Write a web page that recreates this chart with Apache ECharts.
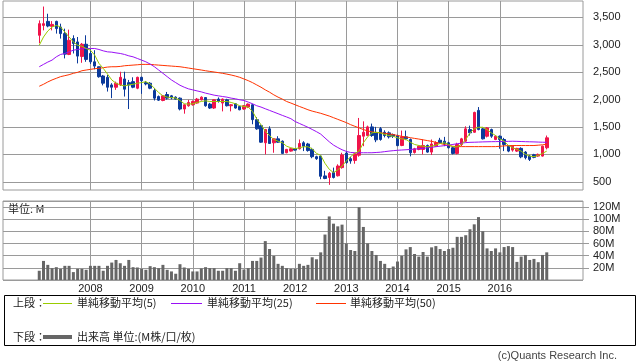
<!DOCTYPE html>
<html><head><meta charset="utf-8">
<script src="https://cdn.jsdelivr.net/npm/echarts@6/dist/echarts.min.js"></script>
<style>html,body{margin:0;padding:0;background:#fff}#c{width:638px;height:362px}</style>
</head><body><div id="c"></div>
<script>
const years = [2007,2008,2009,2010,2011,2012,2013,2014,2015,2016];
const months = [];
years.forEach(y => { for (let m = 1; m <= 12; m++) months.push(y + '/' + (m < 10 ? '0' + m : m)); });

const open = [3174,3355,3428,3337,3428,3324,3205,2824,3114,3053,2788,3011,
 2842,2690,2600,2431,2407,2268,2226,2268,2377,2310,2328,2208,
 2407,2310,2299,2165,2056,1984,2093,2069,2045,2027,1828,1888,
 1906,1937,1996,2038,1918,1846,2009,1937,1996,1888,1924,1875,
 1828,1864,1906,1634,1525,1212,1466,1212,1284,1241,1030,1060,
 1103,1103,1212,1190,1091,958,969,607,578,668,610,759,
 1025,922,890,985,1332,1344,1502,1400,1470,1404,1393,1362,
 1340,1163,1320,1272,1035,1091,1091,1163,1042,1150,1259,1241,
 1212,1121,1018,1181,1241,1453,1404,1803,1466,1332,1453,1272,
 1332,1272,1150,1078,1060,1110,1042,969,994,969,969,1121];
const close = [3386,3386,3343,3373,3296,3205,2830,3083,3024,2794,3011,2734,
 2690,2612,2418,2300,2226,2226,2299,2407,2190,2268,2226,2407,
 2346,2286,2208,2027,1990,2069,2027,2030,2009,1828,1906,1948,
 1966,2009,2045,1888,1846,1996,1966,2009,1888,1906,1846,1815,
 1888,1918,1634,1466,1223,1453,1199,1284,1223,1018,1091,1103,
 1078,1199,1150,1070,958,922,600,560,656,578,788,990,
 850,879,1010,1344,1404,1502,1344,1265,1272,1344,1320,1332,
 1160,1320,1285,1030,1103,1150,1163,1042,1190,1215,1212,1194,
 1121,1018,1181,1284,1466,1393,1766,1453,1284,1484,1332,1332,
 1272,1181,1060,1150,1109,955,940,909,946,1000,1150,1302];
const low = [3029,3264,3320,3264,3205,3114,2752,2812,2842,2661,2672,2690,
 2650,2553,2400,2260,2147,2027,2178,2250,2056,1828,2208,2190,
 2105,2260,2190,1984,1975,1970,2000,2005,2000,1803,1743,1870,
 1890,1925,1985,1870,1830,1830,1945,1785,1875,1785,1835,1805,
 1815,1845,1550,1450,1212,1000,1190,1030,1210,1010,1020,1050,
 1070,1090,1060,1050,930,900,547,547,444,560,596,740,
 830,830,830,958,1150,1330,1320,1223,1250,1310,1290,1300,
 1150,1150,1260,964,1015,1075,1000,1030,990,1140,1194,1150,
 1109,1000,1000,1150,1230,1344,1395,1440,1272,1310,1302,1260,
 1103,1060,1040,1050,1045,930,909,879,930,955,960,1091];
const high = [3446,3699,3567,3433,3440,3386,3295,3277,3174,3143,3034,3174,
 2920,2902,2600,2450,2449,2300,2328,2509,2509,2359,2407,2418,
 2418,2340,2320,2208,2075,2085,2140,2085,2060,2040,1915,1996,
 1985,2030,2060,2045,1940,2005,2040,2020,2015,1920,1937,1885,
 1900,1930,1925,1680,1545,1465,1513,1295,1332,1255,1100,1115,
 1115,1272,1241,1210,1120,975,975,700,680,759,819,1030,
 1060,958,1030,1665,1603,1525,1562,1502,1500,1440,1420,1380,
 1360,1435,1435,1290,1120,1165,1272,1180,1272,1240,1302,1320,
 1230,1145,1212,1302,1513,1525,1779,1864,1484,1500,1470,1350,
 1345,1302,1170,1165,1120,1130,1060,990,1010,1015,1160,1344];
const volumeM = [15.2,31.4,24.9,19.5,21.1,18.4,23.3,23.3,13,18.4,18.4,16.8,
 23.3,23.3,23.3,15.2,23.3,28.7,33,27.6,23.3,33,21.1,20.6,
 18.4,16.8,22.8,21.1,19.5,24.9,16.8,14.1,10.3,26,20.6,18.4,
 14.1,14.1,19,21.1,19.5,19.5,15.2,15.2,19.5,19.5,15.2,27.6,
 17.3,19.5,31.4,31.4,36.9,64,51,39.6,26.6,23.3,19.5,18.4,
 18.4,26.6,23.3,24.9,37.4,34.1,45.5,74.8,104.6,92.7,88.3,91.1,
 60.2,49.3,47.7,119.8,87.3,60.2,47.7,41.2,31.4,26.6,19.5,22.2,
 30.4,39.6,50.4,54.2,42.8,38.5,46.1,38.5,53.7,55.8,50.9,47.7,
 50.9,53.1,71,71,73.7,83.5,91.6,103.5,80.2,52,47.7,52,
 45.5,54.2,55.8,54.2,29.8,38.5,41.2,33,34.7,29.3,41.2,45.5];
const ma5 = [2993,3143,3252,3325,3355,3325,3234,3143,3053,2993,2975,2933,
 2902,2812,2661,2571,2467,2359,2299,2268,2250,2268,2280,2299,
 2310,2328,2286,2208,2129,2069,2045,2038,2027,1984,1924,1918,
 1924,1948,1966,1978,1966,1966,1966,1966,1966,1948,1924,1888,
 1875,1864,1785,1647,1543,1422,1344,1272,1241,1212,1150,1121,
 1103,1121,1139,1139,1103,1018,982,837,728,668,716,788,
 879,958,1018,1060,1212,1320,1393,1404,1393,1362,1344,1332,
 1302,1284,1272,1223,1181,1163,1150,1139,1150,1169,1199,1212,
 1181,1139,1139,1181,1272,1393,1466,1495,1495,1453,1393,1344,
 1284,1241,1163,1121,1091,1060,1000,969,958,982,1018,1060];
const ma25 = [2600,2643,2685,2721,2781,2824,2842,2872,2902,2915,2926,2933,
 2933,2933,2915,2890,2872,2866,2853,2842,2824,2799,2781,2751,
 2721,2690,2649,2600,2540,2480,2419,2359,2310,2262,2226,2196,
 2178,2159,2141,2118,2100,2081,2069,2056,2045,2027,2015,1996,
 1984,1955,1924,1888,1864,1833,1803,1773,1743,1712,1683,1652,
 1600,1565,1530,1495,1455,1415,1370,1300,1230,1170,1125,1085,
 1055,1035,1030,1030,1030,1030,1030,1035,1040,1050,1060,1068,
 1075,1080,1085,1090,1096,1103,1110,1120,1130,1140,1150,1160,
 1170,1182,1195,1205,1215,1220,1222,1225,1228,1230,1232,1233,
 1235,1237,1238,1240,1238,1235,1232,1230,1228,1225,1222,1220];
const ma50 = [2244,2280,2322,2359,2389,2419,2437,2455,2480,2498,2527,2540,
 2552,2564,2571,2582,2594,2600,2600,2606,2618,2624,2630,2636,
 2643,2643,2643,2636,2630,2624,2618,2612,2606,2600,2588,2576,
 2564,2552,2540,2527,2515,2504,2492,2480,2465,2449,2430,2407,
 2377,2346,2310,2268,2226,2178,2136,2087,2045,2009,1966,1937,
 1906,1875,1846,1815,1790,1770,1750,1725,1700,1670,1640,1610,
 1580,1543,1513,1484,1453,1429,1411,1400,1393,1385,1375,1362,
 1345,1330,1318,1305,1292,1280,1266,1252,1238,1220,1200,1180,
 1160,1148,1142,1142,1142,1142,1142,1142,1142,1142,1142,1142,
 1148,1155,1160,1162,1162,1162,1162,1162,1162,1168,1175,1185];
const priceTicks = [500,1000,1500,2000,2500,3000,3500];
const volumeTicks = [20,40,60,80,100,120];

const PAD = 8;
const cats = [];
for (let k = 0; k < PAD; k++) cats.push('pre' + k);
months.forEach(m => cats.push(m));
for (let k = 0; k < PAD; k++) cats.push('post' + k);
const padL = Array(PAD).fill('-');
const padR = Array(PAD).fill('-');
const wrap = arr => padL.concat(arr, padR);
const candles = wrap(open.map((o, i) => [o, close[i], low[i], high[i]]));

const isYearStart = (idx, val) => typeof val === 'string' && val.endsWith('/01') && +val.slice(0, 4) >= 2008;
const UP = '#f0144a', DOWN = '#0b3a9b';
const GRIDC = '#9a9a9a';
const FONT = '"Liberation Sans", Arial, sans-serif';
const JFONT = '"Noto Sans CJK JP", sans-serif';

const chart = echarts.init(document.getElementById('c'), null, {renderer: 'canvas'});
const xBase = {
  type: 'category', data: cats, boundaryGap: true,
  axisLine: {show: false}, axisTick: {show: false, alignWithLabel: true},
  splitLine: {show: true, interval: isYearStart, alignWithLabel: true, lineStyle: {color: GRIDC, width: 1}}
};
chart.setOption({
  animation: false,
  backgroundColor: '#fff',
  grid: [
    {left: 3, top: 1, width: 580, height: 189, show: true, borderColor: GRIDC, borderWidth: 1, containLabel: false},
    {left: 3, top: 201, width: 580, height: 79, show: true, borderColor: GRIDC, borderWidth: 1, containLabel: false}
  ],
  xAxis: [
    Object.assign({}, xBase, {gridIndex: 0, axisLabel: {show: false}}),
    Object.assign({}, xBase, {gridIndex: 1, axisLabel: {show: true, interval: isYearStart, margin: 3,
      formatter: v => v.slice(0, 4), color: '#222', fontSize: 11, fontFamily: FONT}})
  ],
  yAxis: [
    {gridIndex: 0, type: 'value', position: 'right', min: 350, max: 3800, interval: 50,
     axisLine: {show: false}, axisTick: {show: false},
     splitLine: {show: false},
     axisLabel: {margin: 10, color: '#222', fontSize: 11, fontFamily: FONT, showMinLabel: false, showMaxLabel: false,
       formatter: v => priceTicks.indexOf(Math.round(v)) >= 0 ? Math.round(v).toLocaleString('en-US') : ''}},
    {gridIndex: 1, type: 'value', position: 'right', min: 0, max: 130, interval: 20,
     axisLine: {show: false}, axisTick: {show: true, length: 6, lineStyle: {color: GRIDC}},
     splitLine: {show: true, lineStyle: {color: GRIDC, width: 1}},
     axisLabel: {margin: 10, color: '#222', fontSize: 11, fontFamily: FONT, showMinLabel: false, showMaxLabel: false,
       formatter: v => volumeTicks.indexOf(v) >= 0 ? v + 'M' : ''}}
  ],
  series: [
    {type: 'candlestick', xAxisIndex: 0, yAxisIndex: 0, data: candles, barWidth: 3, z: 2,
     itemStyle: {color: UP, color0: DOWN, borderColor: UP, borderColor0: DOWN, borderWidth: 1},
     markLine: {silent: true, symbol: 'none', animation: false, z: 1,
       label: {show: false},
       lineStyle: {color: GRIDC, width: 1, type: 'solid'},
       emphasis: {disabled: true},
       data: priceTicks.map(v => ({yAxis: v}))}},
    {type: 'line', xAxisIndex: 0, yAxisIndex: 0, data: wrap(ma50), showSymbol: false, symbol: 'none',
     lineStyle: {color: '#ff3300', width: 1}, z: 3},
    {type: 'line', xAxisIndex: 0, yAxisIndex: 0, data: wrap(ma25), showSymbol: false, symbol: 'none',
     lineStyle: {color: '#9a10f5', width: 1}, z: 3},
    {type: 'line', xAxisIndex: 0, yAxisIndex: 0, data: wrap(ma5), showSymbol: false, symbol: 'none',
     lineStyle: {color: '#99cc00', width: 1}, z: 3},
    {type: 'bar', xAxisIndex: 1, yAxisIndex: 1, data: wrap(volumeM), barWidth: 3,
     itemStyle: {color: '#666666'}}
  ],
  graphic: [
    {type: 'text', left: 8, top: 203, style: {text: '単位: M', font: '11px ' + JFONT, fill: '#222'}},
    {type: 'rect', shape: {x: 4.5, y: 295.5, width: 631, height: 50}, style: {fill: 'none', stroke: '#000', lineWidth: 1}},
    {type: 'text', x: 13, y: 303, style: {text: '上段：', font: '11px ' + JFONT, fill: '#222', verticalAlign: 'middle'}},
    {type: 'line', shape: {x1: 43, y1: 303.5, x2: 72, y2: 303.5}, style: {stroke: '#99cc00', lineWidth: 1}},
    {type: 'text', x: 77, y: 303, style: {text: '単純移動平均(5)', font: '11px ' + JFONT, fill: '#222', verticalAlign: 'middle'}},
    {type: 'line', shape: {x1: 171, y1: 303.5, x2: 202, y2: 303.5}, style: {stroke: '#9a10f5', lineWidth: 1}},
    {type: 'text', x: 207, y: 303, style: {text: '単純移動平均(25)', font: '11px ' + JFONT, fill: '#222', verticalAlign: 'middle'}},
    {type: 'line', shape: {x1: 316, y1: 303.5, x2: 346, y2: 303.5}, style: {stroke: '#ff3300', lineWidth: 1}},
    {type: 'text', x: 350, y: 303, style: {text: '単純移動平均(50)', font: '11px ' + JFONT, fill: '#222', verticalAlign: 'middle'}},
    {type: 'text', x: 13, y: 337, style: {text: '下段：', font: '11px ' + JFONT, fill: '#222', verticalAlign: 'middle'}},
    {type: 'line', shape: {x1: 43, y1: 337, x2: 72, y2: 337}, style: {stroke: '#666666', lineWidth: 4}},
    {type: 'text', x: 77, y: 337, style: {text: '出来高 単位:(M株/口/枚)', font: '11px ' + JFONT, fill: '#222', verticalAlign: 'middle'}},
    {type: 'text', x: 617, y: 356, style: {text: '(c)Quants Research Inc.', font: '11px ' + FONT, fill: '#444', align: 'right', verticalAlign: 'middle'}}
  ]
});
</script></body></html>
